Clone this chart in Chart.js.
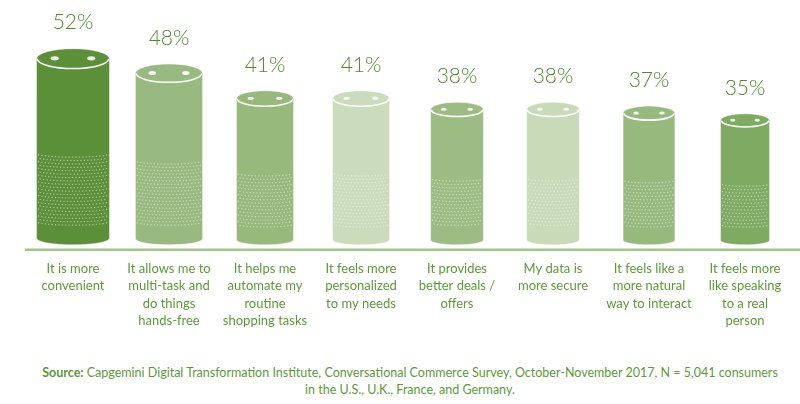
<!DOCTYPE html>
<html>
<head>
<meta charset="utf-8">
<script src="https://cdn.jsdelivr.net/npm/chart.js@4.4.1/dist/chart.umd.min.js"></script>
<style>
  body { margin: 0; background: #fff; width: 800px; height: 404px; overflow: hidden; font-family: Lato, sans-serif; }
  #wrap { position: relative; width: 800px; height: 350px; }
  #fuente { position: absolute; top: 364px; left: 10px; width: 800px; text-align: center; color: #5b9a37; font-size: 12.5px; line-height: 17px; }
  #fuente b { font-weight: 700; }
</style>
</head>
<body>
<div id="wrap"><canvas id="grafico"></canvas></div>
<div id="fuente"><b>Source:</b> Capgemini Digital Transformation Institute, Conversational Commerce Survey, October-November 2017, N = 5,041 consumers<br>in the U.S., U.K., France, and Germany.</div>

<script>
// ===============================
// DATA
// ===============================
const categorias = [
  ["It is more", "convenient"],
  ["It allows me to", "multi-task and", "do things", "hands-free"],
  ["It helps me", "automate my", "routine", "shopping tasks"],
  ["It feels more", "personalized", "to my needs"],
  ["It provides", "better deals /", "offers"],
  ["My data is", "more secure"],
  ["It feels like a", "more natural", "way to interact"],
  ["It feels more", "like speaking", "to a real", "person"]
];
const valores = [52, 48, 41, 41, 38, 38, 37, 35];

// estilos de cada cilindro
const colores = ["#5b8f38", "#98b97f", "#97b97c", "#cadcbb", "#9cbc83", "#c8dab8", "#96ba7d", "#7eaa62"];
const anchos = [0.76, 0.70, 0.595, 0.595, 0.55, 0.55, 0.54, 0.51];

const VERDE_TEXTO = "#5b9a37";

// ===============================
// PLUGIN CILINDROS
// ===============================
const cilindros = {
  id: "cilindros",
  afterDatasetsDraw(chart) {
    const ctx = chart.ctx;
    const meta = chart.getDatasetMeta(0);
    const area = chart.chartArea;

    // linea base
    const yBase = chart.scales.y.getPixelForValue(0);
    ctx.save();
    ctx.strokeStyle = "#a3c68b";
    ctx.lineWidth = 2.5;
    ctx.beginPath();
    ctx.moveTo(area.left, yBase + 2);
    ctx.lineTo(chart.width, yBase + 2);
    ctx.stroke();
    ctx.restore();

    meta.data.forEach((bar, i) => {
      const w = bar.width * anchos[i];
      const cx = bar.x;
      const top = bar.y;
      const bottom = bar.base - 3;
      const rx = w / 2;
      const ry = w * 0.14;
      const ryb = w * 0.09;
      const left = cx - rx;

      ctx.save();
      // cuerpo
      ctx.fillStyle = colores[i];
      ctx.beginPath();
      ctx.moveTo(left, top + ry);
      ctx.ellipse(cx, top + ry, rx, ry, 0, Math.PI, 2 * Math.PI);
      ctx.lineTo(left + w, bottom - ryb);
      ctx.ellipse(cx, bottom - ryb, rx, ryb, 0, 0, Math.PI);
      ctx.closePath();
      ctx.fill();

      // borde claro
      ctx.strokeStyle = "rgba(255,255,255,0.45)";
      ctx.lineWidth = 1;
      ctx.stroke();

      // borde superior
      ctx.strokeStyle = "#ffffff";
      ctx.lineWidth = 1.6;
      ctx.beginPath();
      ctx.ellipse(cx, top + ry, rx - 0.8, ry - 0.5, 0, 0, Math.PI);
      ctx.stroke();

      // agujeros
      ctx.fillStyle = "rgba(255,255,255,0.9)";
      [-1, 1].forEach(s => {
        ctx.beginPath();
        ctx.ellipse(cx + s * w * 0.25, top + ry * 0.95, w * 0.055, w * 0.03, 0, 0, 2 * Math.PI);
        ctx.fill();
      });

      // puntos del altavoz
      const yIni = top + 0.535 * (bottom - top);
      const yFin = bottom - 20;
      ctx.fillStyle = "rgba(255,255,255,0.55)";
      let fila = 0;
      for (let y = yIni; y <= yFin; y += 3.4, fila++) {
        const desfase = (fila % 2) * 1.7;
        for (let x = left + 2 + desfase; x <= left + w - 2; x += 3.4) {
          const dx = (x - cx) / rx;
          const curva = ry * 0.35 * Math.sqrt(Math.max(0, 1 - dx * dx));
          ctx.fillRect(x - 0.6, y + curva - 0.6, 1.2, 1.2);
        }
      }

      // etiqueta de valor
      ctx.fillStyle = "#4e8a2c";
      ctx.font = "300 21px Lato, sans-serif";
      ctx.textAlign = "center";
      ctx.textBaseline = "middle";
      ctx.fillText(valores[i] + "%", cx, top - 26);
      ctx.restore();
    });
  }
};

// ===============================
// GRAFICO
// ===============================
new Chart(document.getElementById("grafico"), {
  type: "bar",
  data: {
    labels: categorias,
    datasets: [{
      data: valores,
      backgroundColor: "rgba(0,0,0,0)",
      categoryPercentage: 1,
      barPercentage: 1
    }]
  },
  options: {
    responsive: true,
    maintainAspectRatio: false,
    animation: false,
    layout: { padding: { top: 18, left: 25, right: 7, bottom: 8 } },
    plugins: {
      legend: { display: false },
      tooltip: { enabled: false }
    },
    scales: {
      y: { display: false, min: 0, max: 60 },
      x: {
        grid: { display: false, drawTicks: false },
        border: { display: false },
        ticks: {
          color: VERDE_TEXTO,
          padding: 12,
          maxRotation: 0,
          autoSkip: false,
          font: { family: "Lato, sans-serif", size: 13, lineHeight: 1.35 }
        }
      }
    }
  },
  plugins: [cilindros]
});
</script>
</body>
</html>
